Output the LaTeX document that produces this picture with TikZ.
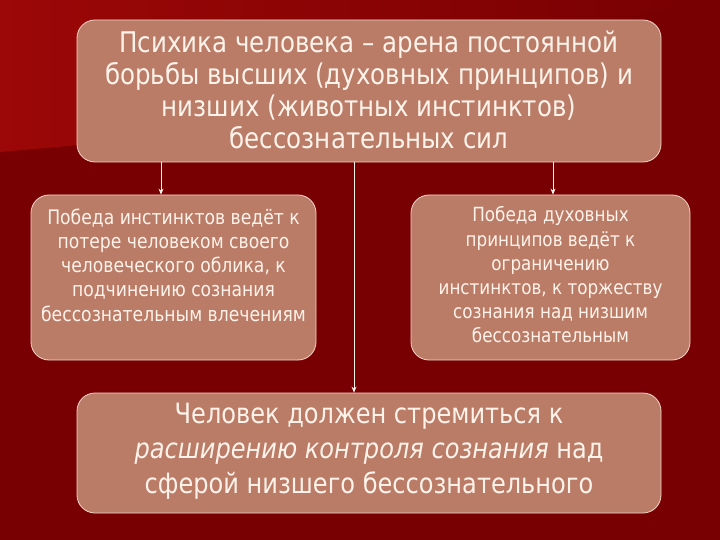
\documentclass[tikz,border=0pt]{standalone}
\usepackage{fontspec}
\setmainfont{DejaVu Sans}[FakeStretch=0.86]
\usetikzlibrary{arrows.meta,calc}
\definecolor{bgdark}{HTML}{780002}
\definecolor{bglight}{HTML}{9C0707}
\definecolor{boxfill}{HTML}{BA7B67}
\definecolor{boxline}{HTML}{F2D6C8}
\definecolor{txt}{HTML}{FFF3EA}
\begin{document}
\begin{tikzpicture}[x=1pt,y=-1pt,
  box/.style={draw=boxline, line width=0.8pt, fill=boxfill, rounded corners=18pt, inner sep=0pt},
  lbl/.style={text=txt, align=center, inner sep=0pt},
  arr/.style={draw=txt, line width=0.8pt, -{Stealth[length=6pt,width=5pt]}}]
\fill[bgdark] (0,0) rectangle (720,540);
\shade[left color=bglight, right color=bgdark] (0,0) -- (700,0) -- (80,145) -- (0,152) -- cycle;
\useasboundingbox (0,0) rectangle (720,540);

\node[box, minimum width=584pt, minimum height=142pt] (top) at (369,91) {};
\node[box, minimum width=285pt, minimum height=165pt] (lb) at (173.5,277.5) {};
\node[box, minimum width=279pt, minimum height=165pt] (rb) at (550.5,277.5) {};
\node[box, minimum width=584pt, minimum height=120pt] (bot) at (369,453) {};

\node[lbl, font=\fontsize{28.5}{32}\selectfont] (ttop) at (369,90)
  {Психика человека – арена постоянной\\борьбы высших (духовных принципов) и\\низших (животных инстинктов)\\бессознательных сил};
\node[lbl, font=\fontsize{20}{24.2}\selectfont] (tl) at (173.5,265)
  {Победа инстинктов ведёт к\\потере человеком своего\\человеческого облика, к\\подчинению сознания\\бессознательным влечениям};
\node[lbl, font=\fontsize{19.5}{24.2}\selectfont] (tr) at (550.5,275)
  {Победа духовных\\принципов ведёт к\\ограничению\\инстинктов, к торжеству\\сознания над низшим\\бессознательным};
\node[lbl, font=\fontsize{28}{35}\selectfont] (tb) at (369,451)
  {Человек должен стремиться к\\\textit{расширению контроля сознания} над\\сферой низшего бессознательного};

\coordinate (xl) at (161,0);
\coordinate (xc) at (354,0);
\coordinate (xr) at (553,0);
\draw[arr] (top.south -| xl) -- (lb.north -| xl);
\draw[arr] (top.south -| xr) -- (rb.north -| xr);
\draw[arr] (top.south -| xc) -- (bot.north -| xc);
\end{tikzpicture}
\end{document}
